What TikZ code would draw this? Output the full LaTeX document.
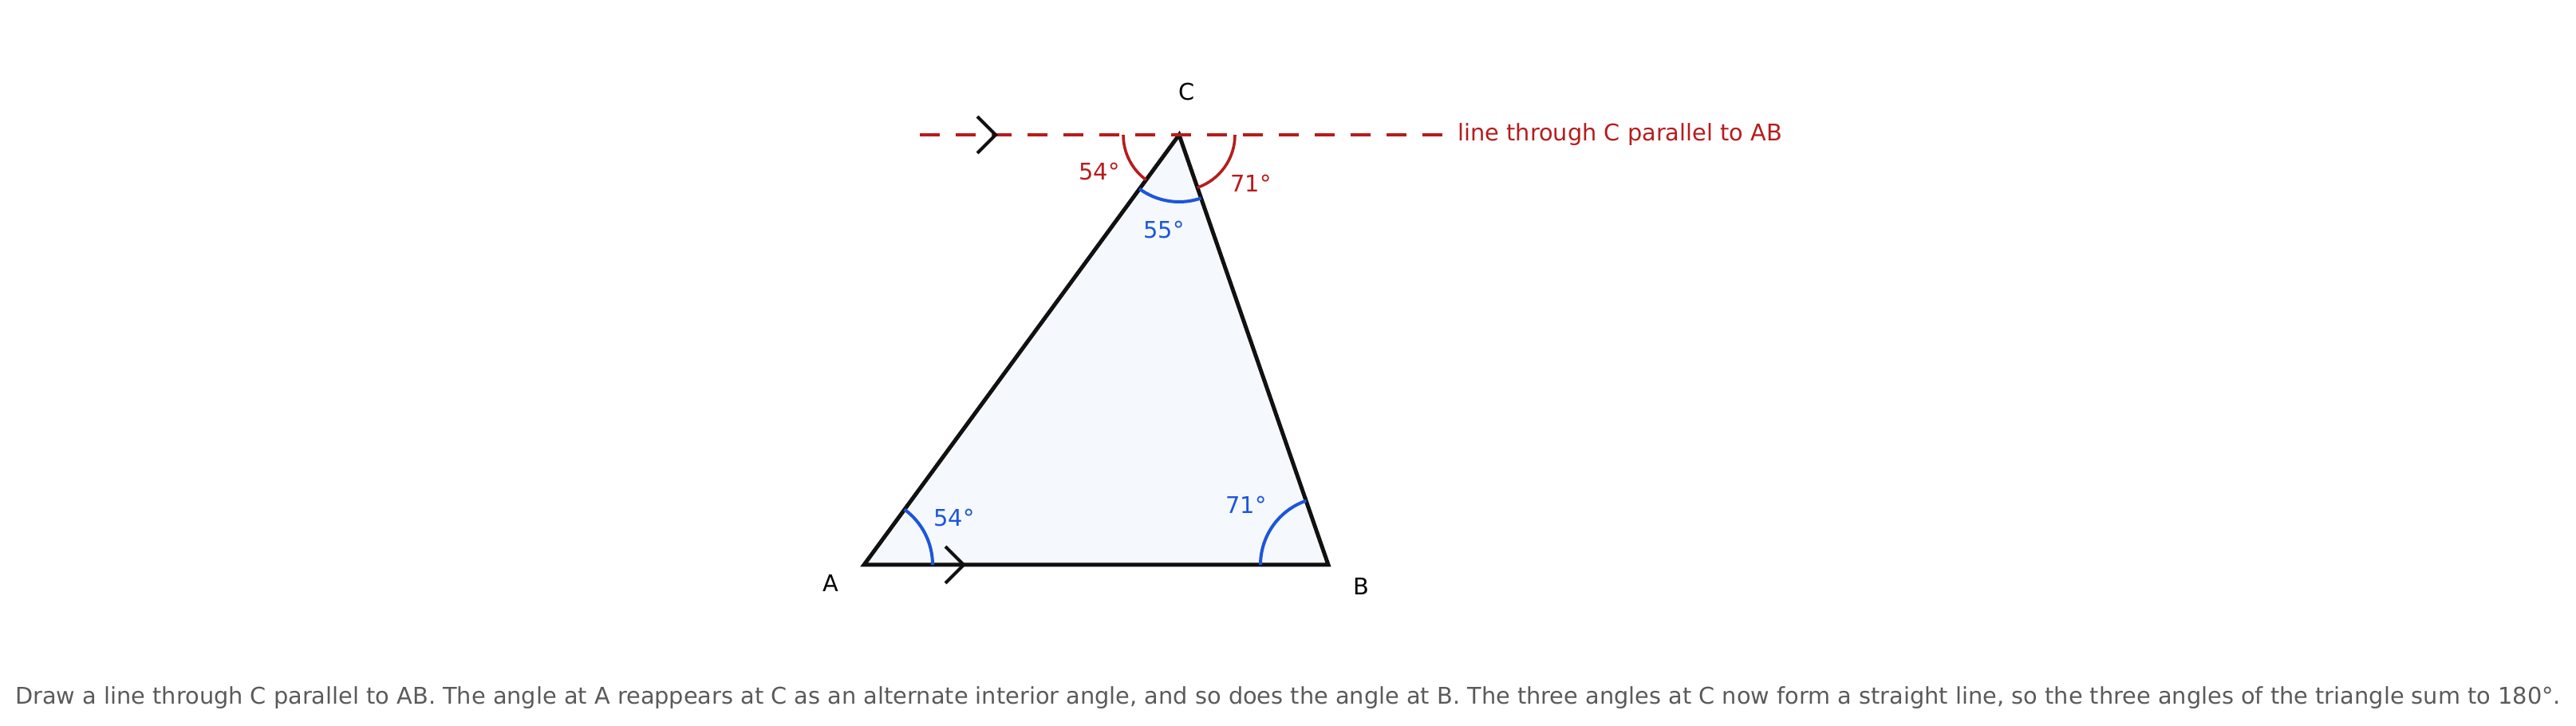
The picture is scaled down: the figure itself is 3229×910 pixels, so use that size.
\documentclass[tikz,border=0pt]{standalone}
\usepackage{fontspec}
\setmainfont{DejaVu Sans}
\definecolor{redc}{RGB}{183,28,28}
\definecolor{bluec}{RGB}{29,86,219}
\definecolor{fillc}{RGB}{245,249,253}
\definecolor{inkc}{RGB}{17,17,17}
\definecolor{capc}{RGB}{90,90,90}
\tikzset{
  lbl/.style={inner sep=0pt, font=\fontsize{14.4}{17}\selectfont},
  redlbl/.style={lbl, text=redc},
  bluelbl/.style={lbl, text=bluec},
  tri/.style={draw=inkc, line width=2.5pt, fill=fillc},
  parline/.style={draw=redc, line width=2pt, dash pattern=on 12.5pt off 10pt},
  redarc/.style={draw=redc, line width=1.8pt},
  bluearc/.style={draw=bluec, line width=2pt},
  chev/.style={draw=inkc, line width=2pt},
}
\begin{document}
\begin{tikzpicture}[x=0.5pt,y=0.5pt]
\useasboundingbox (0,0) rectangle (3229,910);
\coordinate (A) at (1083,202);
\coordinate (B) at (1665,202);
\coordinate (C) at (1478,741);
\coordinate (L) at (1152.5,741);
\coordinate (R) at (1808,741);
% triangle
\path[tri] (A) -- (B) -- (C) -- cycle;
% parallel line
\draw[parline] (L) -- (R);
% angle arcs at C
\draw[redarc] ([shift={(180:35pt)}]C) arc[start angle=180, end angle=233.77, radius=35pt];
\draw[redarc] ([shift={(289.13:35pt)}]C) arc[start angle=289.13, end angle=360, radius=35pt];
\draw[bluearc] ([shift={(233.77:42pt)}]C) arc[start angle=233.77, end angle=289.13, radius=42pt];
% angle arcs at A and B
\draw[bluearc] ([shift={(0:43pt)}]A) arc[start angle=0, end angle=53.77, radius=43pt];
\draw[bluearc] ([shift={(109.13:42.5pt)}]B) arc[start angle=109.13, end angle=180, radius=42.5pt];
% chevrons
\coordinate (t1) at (1248,741);
\coordinate (t1a) at (1225,764);
\coordinate (t1b) at (1225,718);
\draw[chev] (t1a) -- (t1) -- (t1b);
\coordinate (t2) at (1208,202);
\coordinate (t2a) at (1185,225);
\coordinate (t2b) at (1185,179);
\draw[chev] (t2a) -- (t2) -- (t2b);
% vertex labels
\node[lbl] (lC) at (1488,795) {C};
\node[lbl] (lA) at (1041,179) {A};
\node[lbl] (lB) at (1706,175) {B};
% angle labels
\node[redlbl] (r54) at (1378,694.5) {54°};
\node[redlbl] (r71) at (1568,680) {71°};
\node[bluelbl] (b55) at (1459,622) {55°};
\node[bluelbl] (b54) at (1196,261) {54°};
\node[bluelbl] (b71) at (1562,277.5) {71°};
% line label
\node[redlbl, anchor=base west] (pl) at (1827,733) {line through C parallel to AB};
% caption
\node[lbl, text=capc, anchor=base] (cap) at (1614.5,27) {Draw a line through C parallel to AB. The angle at A reappears at C as an alternate interior angle, and so does the angle at B. The three angles at C now form a straight line, so the three angles of the triangle sum to 180°.};
\end{tikzpicture}
\end{document}
